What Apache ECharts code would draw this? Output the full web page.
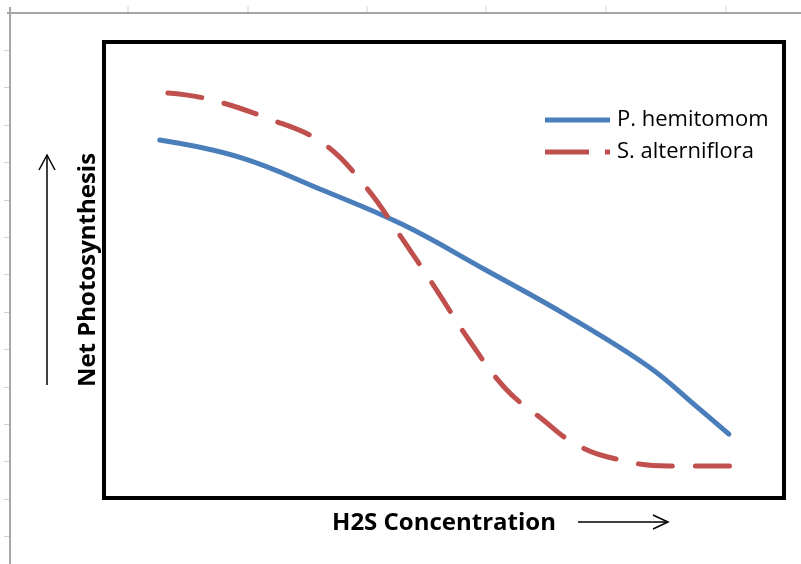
<!DOCTYPE html>
<html>
<head>
<meta charset="utf-8">
<script src="https://cdn.jsdelivr.net/npm/echarts@6/dist/echarts.min.js"></script>
<style>
  html, body { margin: 0; padding: 0; background: #fff; }
  #main { width: 801px; height: 564px; }
</style>
</head>
<body>
<div id="main"></div>
<script>
// values (x: H2S, y: net photosynthesis, both 0-100 relative)
const hemitomomX = [8.2, 20, 32, 44, 56, 68, 80, 87.2, 91.9];
const hemitomomY = [78.5, 74.7, 67.6, 59.9, 50.1, 40.1, 28.9, 20.0, 14.0];
const alternifloraX = [9.4, 15.3, 24.0, 32.1, 38.5, 43.7, 48.7, 53.7, 59.1, 64.6, 68.8, 74.1, 82.9, 92.1];
const alternifloraY = [88.8, 87.5, 83.3, 77.9, 68.2, 57.2, 46.1, 34.6, 23.9, 17.1, 12.3, 9.0, 7.0, 7.0];
const seriesNames = ['P. hemitomom', 'S. alterniflora'];

const chartDom = document.getElementById('main');
const myChart = echarts.init(chartDom);

const zip = (xs, ys) => xs.map((x, i) => [x, ys[i]]);

// spreadsheet frame behind the chart (column / row marks)
const sheetMarks = [];
sheetMarks.push({ type: 'line', shape: { x1: 7, y1: 13, x2: 801, y2: 13 }, style: { stroke: '#a6a6a6', lineWidth: 2 } });
sheetMarks.push({ type: 'line', shape: { x1: 10, y1: 7, x2: 10, y2: 564 }, style: { stroke: '#a6a6a6', lineWidth: 2 } });
[128, 248, 367, 486, 606, 726].forEach(x => {
    sheetMarks.push({ type: 'line', shape: { x1: x, y1: 6, x2: x, y2: 12 }, style: { stroke: '#d0d0dc', lineWidth: 1 } });
});
for (let y = 50; y < 560; y += 37.4) {
    sheetMarks.push({ type: 'line', shape: { x1: 4, y1: Math.round(y) + 0.5, x2: 9, y2: Math.round(y) + 0.5 }, style: { stroke: '#d0d0dc', lineWidth: 1 } });
}

const font = '"Open Sans", "Liberation Sans", sans-serif';

// legend icons: solid bar, and dash + dot like Excel draws a short dashed sample
const solidIcon = 'path://M0,0 L65,0 L65,5 L0,5 Z';
const dashIcon = 'path://M0,0 L44,0 L44,5 L0,5 Z M60,0 L65,0 L65,5 L60,5 Z';

let option = {
    backgroundColor: '#fff',
    animation: false,
    grid: {
        show: true,
        left: 104,
        right: 17,
        top: 42,
        bottom: 66,
        borderColor: '#000',
        borderWidth: 4,
        backgroundColor: '#fff'
    },
    legend: {
        orient: 'vertical',
        left: 540,
        top: 104,
        itemWidth: 65,
        itemHeight: 5,
        itemGap: 10,
        textStyle: {
            fontFamily: font,
            fontSize: 22,
            color: '#000',
            lineHeight: 22,
            padding: [0, 0, 0, 2]
        },
        data: [
            { name: seriesNames[0], icon: solidIcon },
            { name: seriesNames[1], icon: dashIcon }
        ]
    },
    xAxis: {
        type: 'value',
        min: 0,
        max: 100,
        name: 'H2S Concentration',
        nameLocation: 'middle',
        nameGap: 13,
        nameTextStyle: { fontFamily: font, fontSize: 24, fontWeight: 'bold', color: '#000' },
        axisLine: { show: false },
        axisTick: { show: false },
        axisLabel: { show: false },
        splitLine: { show: false }
    },
    yAxis: {
        type: 'value',
        min: 0,
        max: 100,
        name: 'Net Photosynthesis',
        nameLocation: 'middle',
        nameGap: 4,
        nameTextStyle: { fontFamily: font, fontSize: 24, fontWeight: 'bold', color: '#000' },
        axisLine: { show: false },
        axisTick: { show: false },
        axisLabel: { show: false },
        splitLine: { show: false }
    },
    graphic: sheetMarks.concat([
        // up arrow beside the y title
        { type: 'line', shape: { x1: 47, y1: 156, x2: 47, y2: 385 }, style: { stroke: '#000', lineWidth: 1.5 } },
        { type: 'polyline', shape: { points: [[39, 170], [47, 155], [55, 170]] }, style: { stroke: '#000', lineWidth: 1.5, fill: null } },
        // right arrow beside the x title
        { type: 'line', shape: { x1: 578, y1: 522, x2: 667, y2: 522 }, style: { stroke: '#000', lineWidth: 1.5 } },
        { type: 'polyline', shape: { points: [[653, 515], [668, 522], [653, 529]] }, style: { stroke: '#000', lineWidth: 1.5, fill: null } }
    ]),
    series: [
        {
            name: seriesNames[0],
            type: 'line',
            data: zip(hemitomomX, hemitomomY),
            smooth: 0.4,
            symbol: 'none',
            color: '#4a7ebb',
            lineStyle: { width: 5, color: '#4a7ebb', cap: 'round' }
        },
        {
            name: seriesNames[1],
            type: 'line',
            data: zip(alternifloraX, alternifloraY),
            smooth: 0.4,
            symbol: 'none',
            color: '#c0504d',
            lineStyle: { width: 5, color: '#c0504d', type: [34, 23], cap: 'round' }
        }
    ]
};

option && myChart.setOption(option);
</script>
</body>
</html>
